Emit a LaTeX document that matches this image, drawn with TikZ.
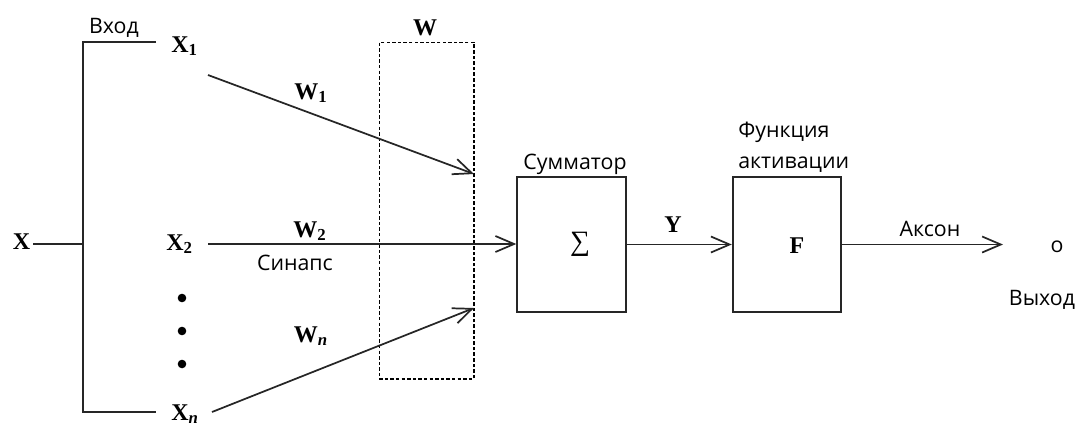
\documentclass[tikz,border=0pt]{standalone}
\usepackage{fontspec}
\setmainfont{Liberation Serif}
\newfontfamily\capfont{Open Sans}
\usetikzlibrary{positioning,arrows.meta}

\tikzset{
  sym/.style={font=\fontsize{18}{18}\selectfont\bfseries, inner sep=0pt, anchor=base},
  txt/.style={font=\capfont\fontsize{16}{16}\selectfont, inner sep=0pt, anchor=base},
  blk/.style={draw=black!85, line width=1.3pt, minimum width=81.5pt, minimum height=101pt, inner sep=0pt},
  wire/.style={line width=1.3pt, draw=black!85},
  arr/.style={wire, -{Straight Barb[length=14pt,width=12pt,line width=1.3pt]}},
}

\begin{document}
\begin{tikzpicture}[x=0.75pt,y=-0.75pt]
  \useasboundingbox (0,0) rectangle (1078,426);
  % input bundle
  \node[sym] (xin) at (21.5,249) {X};
  \coordinate (fork) at (83,244);
  \coordinate (top) at (83,42);
  \coordinate (bot) at (83,412);
  \draw[wire] (33,244) -- (fork);
  \draw[wire] (156,42) -- (top) -- (bot) -- (156,412);
  \node[txt] (vhod) at (114,33) {Вход};
  \node[sym,anchor=base west] (x1) at (171,52) {X\textsubscript{1}};
  \node[sym,anchor=base west] (x2) at (166,250) {X\textsubscript{2}};
  \node[sym,anchor=base west] (xn) at (171,420) {X\textsubscript{\textit{n}}};
  \foreach \y in {298,331,364}
    \fill (182,\y) circle (4.3);
  % synapses
  \node[draw,dashed,dash pattern=on 2.6pt off 1.6pt,line width=1pt,
        minimum width=71pt,minimum height=252.5pt,inner sep=0pt]
        (wbox) at (426.5,210.5) {};
  \node[sym] (wlbl) at (425,35) {W};
  \coordinate (s1) at (208,75);
  \coordinate (s2) at (208,244);
  \coordinate (sn) at (212,412);
  \coordinate (e1) at (474,174);
  \coordinate (en) at (474,308);
  \draw[arr] (s1) -- (e1);
  \draw[arr] (sn) -- (en);
  \node[sym] (w1) at (311,99) {W\textsubscript{1}};
  \node[sym] (w2) at (310,237) {W\textsubscript{2}};
  \node[txt] (sinaps) at (295,270) {Синапс};
  \node[sym] (wn) at (311,342) {W\textsubscript{\textit{n}}};
  % summator and activation
  \node[blk] (sum) at (571.5,244.5) {};
  \node[font=\fontsize{21}{21}\selectfont,inner sep=0pt] (sigma) at (580,244) {∑};
  \node[txt] (sumlbl) at (575,169) {Сумматор};
  \draw[arr] (s2) -- (s2 -| sum.west);
  \node[blk] (act) at (787,244.5) {};
  \node[sym] (flbl) at (797,253) {F};
  \node[txt,anchor=base west] (actlbl) at (738,137) {Функция};
  \node[txt,anchor=base west] (actlbl2) at (738,168) {активации};
  \draw[arr] (sum.east) -- (act.west);
  \node[sym] (ylbl) at (673,232) {Y};
  % output
  \coordinate (axend) at (1003,244.5);
  \draw[arr] (act.east) -- (axend);
  \node[txt] (akson) at (930,236) {Аксон};
  \node[txt] (out) at (1057,252) {o};
  \node[txt] (vyhod) at (1042,305) {Выход};
\end{tikzpicture}
\end{document}
